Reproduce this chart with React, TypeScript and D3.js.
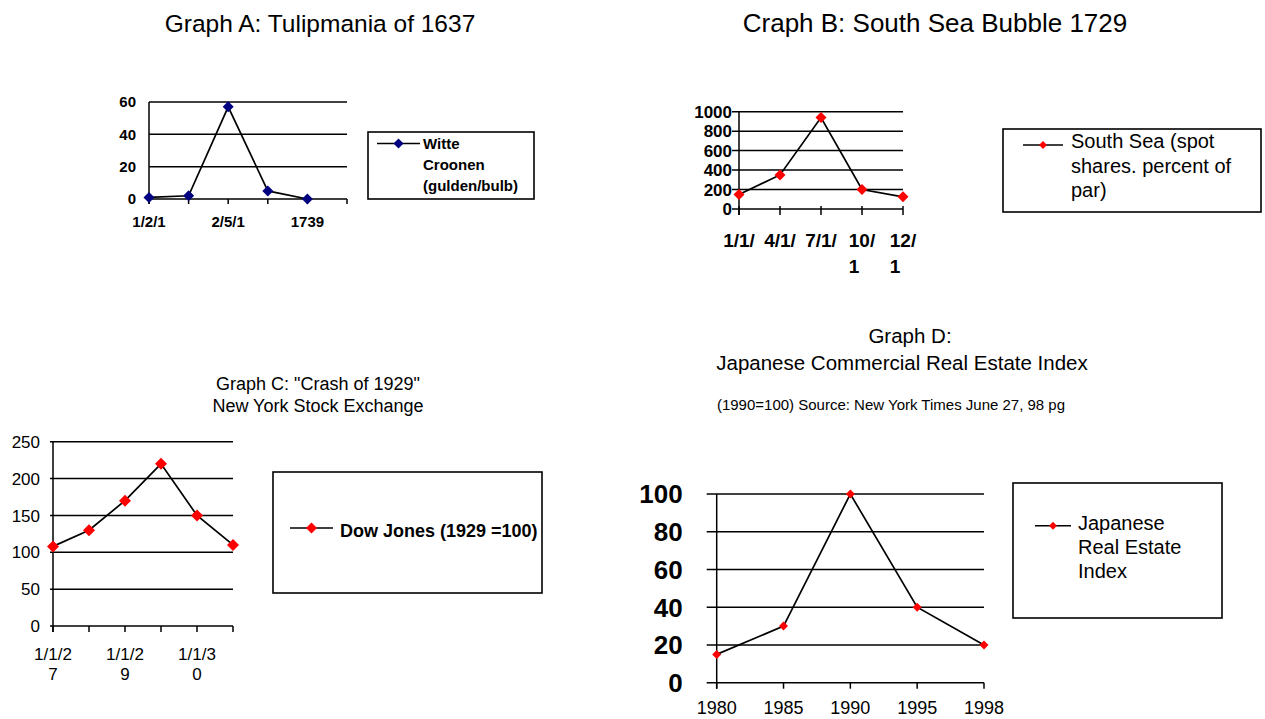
import React from 'react';
import * as d3 from 'd3';

// ---- data ----
const tulipLabels = ['1/2/1', '', '2/5/1', '', '1739', ''];
const tulipValues = [1, 2, 57, 5, 0, null];
const tulipTicks = [0, 20, 40, 60];

const southSeaLabels = [['1/1/'], ['4/1/'], ['7/1/'], ['10/', '1'], ['12/', '1']];
const southSeaValues = [150, 350, 940, 200, 125];
const southSeaTicks = [0, 200, 400, 600, 800, 1000];

const dowLabels = [['1/1/2', '7'], [''], ['1/1/2', '9'], [''], ['1/1/3', '0'], ['']];
const dowValues = [108, 130, 170, 220, 150, 110];
const dowTicks = [0, 50, 100, 150, 200, 250];

const japanLabels = ['1980', '1985', '1990', '1995', '1998'];
const japanValues = [15, 30, 100, 40, 20];
const japanTicks = [0, 20, 40, 60, 80, 100];

const FONT = "'Liberation Sans', Arial, Helvetica, sans-serif";

type ChartProps = {
  labels: string[][];
  values: (number | null)[];
  ticks: number[];
  x0: number; x1: number;
  y0: number; y1: number;
  yMax: number;
  yFont: number; yBold: boolean; yLabelGap: number;
  xFont: number; xBold: boolean; xBase: number; xLine: number; xSecondDx?: number;
  yTickOut: number; xTickUp: number; xTickDown: number;
  marker: number; markerColor: string;
};

const diamond = (w: number) => d3.symbol(d3.symbolSquare, (w * w) / 2)() as string;

function LineChart(p: ChartProps) {
  const x = d3.scalePoint<number>().domain(d3.range(p.labels.length)).range([p.x0, p.x1]);
  const y = d3.scaleLinear().domain([0, p.yMax]).range([p.y0, p.y1]);
  const pts = p.values.map((v, i) => ({ v, i })).filter(d => d.v != null) as { v: number; i: number }[];
  const line = d3.line<{ v: number; i: number }>().x(d => x(d.i)!).y(d => y(d.v));
  return (
    <g>
      {p.ticks.map(t => (
        <g key={t}>
          <line x1={p.x0 - p.yTickOut} x2={p.x1} y1={y(t)} y2={y(t)} stroke="#000" strokeWidth={1.5} />
          <text x={p.x0 - p.yLabelGap} y={y(t)} dy="0.36em" textAnchor="end" fontSize={p.yFont}
            fontWeight={p.yBold ? 'bold' : 'normal'} fontFamily={FONT}>{t}</text>
        </g>
      ))}
      <line x1={p.x0} x2={p.x0} y1={y(p.yMax)} y2={p.y0 + p.xTickDown} stroke="#000" strokeWidth={1.5} />
      {p.labels.map((l, i) => (
        <g key={i}>
          <line x1={x(i)} x2={x(i)} y1={p.y0 - p.xTickUp} y2={p.y0 + p.xTickDown} stroke="#000" strokeWidth={1.5} />
          {l.map((s, j) => (
            <text key={j} x={x(i)! + (j > 0 && l[0].length > 2 ? (p.xSecondDx || 0) : 0)} y={p.xBase + j * p.xLine}
              textAnchor="middle" fontSize={p.xFont} fontWeight={p.xBold ? 'bold' : 'normal'} fontFamily={FONT}>{s}</text>
          ))}
        </g>
      ))}
      <path d={line(pts) || ''} fill="none" stroke="#000" strokeWidth={1.7} />
      {pts.map(d => (
        <path key={d.i} d={diamond(p.marker)} transform={`translate(${x(d.i)},${y(d.v)}) rotate(45)`} fill={p.markerColor} />
      ))}
    </g>
  );
}

function Legend({ x, y, w, h, lx0, lx1, ly, marker, color, tx, lines, base, step, size, bold }: any) {
  return (
    <g>
      <rect x={x} y={y} width={w} height={h} fill="#fff" stroke="#000" strokeWidth={1.6} />
      <line x1={lx0} x2={lx1} y1={ly} y2={ly} stroke="#000" strokeWidth={1.6} />
      <path d={diamond(marker)} transform={`translate(${(lx0 + lx1) / 2},${ly}) rotate(45)`} fill={color} />
      {lines.map((s: string, i: number) => (
        <text key={i} x={tx} y={base + i * step} fontSize={size} fontWeight={bold ? 'bold' : 'normal'} fontFamily={FONT}>{s}</text>
      ))}
    </g>
  );
}

export default function App() {
  return (
    <svg width={1265} height={719} style={{ position: 'absolute', left: 0, top: 0, background: '#fff' }}>
      <rect width={1265} height={719} fill="#fff" />
      {/* Graph A */}
      <text x={320} y={32} textAnchor="middle" fontSize={24.5} fontFamily={FONT}>Graph A: Tulipmania of 1637</text>
      <LineChart labels={tulipLabels.map(s => [s])} values={tulipValues} ticks={tulipTicks}
        x0={149} x1={347} y0={199} y1={102} yMax={60}
        yFont={15} yBold yLabelGap={13} xFont={15} xBold xBase={227} xLine={0}
        yTickOut={0} xTickUp={0} xTickDown={5} marker={11} markerColor="#000080" />
      <Legend x={368} y={132} w={166} h={67} lx0={377} lx1={420} ly={143.5} marker={10} color="#000080"
        tx={423} lines={['Witte', 'Croonen', '(gulden/bulb)']} base={149} step={21} size={15} bold />

      {/* Graph B */}
      <text x={935} y={32} textAnchor="middle" fontSize={26} fontFamily={FONT}>Craph B: South Sea Bubble 1729</text>
      <LineChart labels={southSeaLabels} values={southSeaValues} ticks={southSeaTicks}
        x0={739} x1={903} y0={209} y1={111.7} yMax={1000}
        yFont={17} yBold yLabelGap={7} xFont={19} xBold xBase={246.5} xLine={26} xSecondDx={-8}
        yTickOut={7} xTickUp={3} xTickDown={6} marker={11} markerColor="#ff0000" />
      <Legend x={1003} y={129} w={258} h={83} lx0={1023} lx1={1063} ly={145} marker={8} color="#ff0000"
        tx={1071} lines={['South Sea (spot', 'shares. percent of', 'par)']} base={148} step={24.5} size={20} />

      {/* Graph C */}
      <text x={318} y={390} textAnchor="middle" fontSize={18} fontFamily={FONT}>Graph C: "Crash of 1929"</text>
      <text x={318} y={411.7} textAnchor="middle" fontSize={18} fontFamily={FONT}>New York Stock Exchange</text>
      <LineChart labels={dowLabels} values={dowValues} ticks={dowTicks}
        x0={53} x1={233} y0={626} y1={441.7} yMax={250}
        yFont={17} yBold={false} yLabelGap={13} xFont={17} xBold={false} xBase={660} xLine={20}
        yTickOut={3} xTickUp={0} xTickDown={6} marker={12} markerColor="#ff0000" />
      <Legend x={273} y={472} w={269} h={121} lx0={290} lx1={333} ly={528} marker={11} color="#ff0000"
        tx={340} lines={['Dow Jones (1929 =100)']} base={536.5} step={0} size={18} bold />

      {/* Graph D */}
      <text x={910} y={343} textAnchor="middle" fontSize={20.5} fontFamily={FONT}>Graph D:</text>
      <text x={902} y={370} textAnchor="middle" fontSize={20.5} fontFamily={FONT}>Japanese Commercial Real Estate Index</text>
      <text x={891} y={410} textAnchor="middle" fontSize={15} fontFamily={FONT}>(1990=100) Source: New York Times June 27, 98 pg</text>
      <LineChart labels={japanLabels.map(s => [s])} values={japanValues} ticks={japanTicks}
        x0={716.7} x1={984} y0={682.7} y1={494} yMax={100}
        yFont={26} yBold yLabelGap={34} xFont={18} xBold={false} xBase={714} xLine={0}
        yTickOut={10} xTickUp={0} xTickDown={6} marker={9} markerColor="#ff0000" />
      <Legend x={1013} y={483} w={209} h={135} lx0={1035} lx1={1071} ly={525.7} marker={8} color="#ff0000"
        tx={1078} lines={['Japanese', 'Real Estate', 'Index']} base={530} step={24} size={20} />
    </svg>
  );
}
